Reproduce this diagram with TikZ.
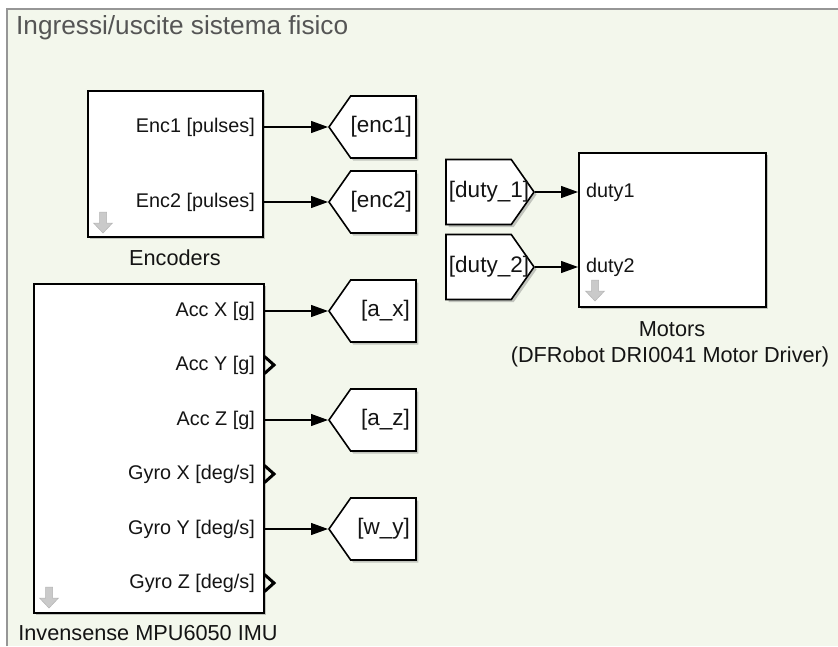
\documentclass[tikz,border=0pt]{standalone}
\usepackage{fontspec}
\setmainfont{Liberation Sans}
\usetikzlibrary{shapes.symbols,arrows.meta,shadows}
\definecolor{bgc}{RGB}{243,247,236}
\definecolor{framec}{RGB}{150,150,150}
\definecolor{iconc}{RGB}{202,202,202}
\definecolor{icond}{RGB}{180,180,180}
\definecolor{titlec}{RGB}{85,85,85}
\definecolor{txtc}{RGB}{20,20,20}
\newcommand\pfont{\fontsize{19.8}{22}\selectfont}
\newcommand\gfont{\fontsize{22.5}{26}\selectfont}
\newcommand\bfont{\fontsize{21.7}{28}\selectfont}
\newcommand\tfont{\fontsize{26.2}{30}\selectfont}
\begin{document}
\begin{tikzpicture}[x=1pt,y=-1pt,
  shd/.style={drop shadow={shadow xshift=2.5pt, shadow yshift=-2.5pt, opacity=0.35, fill=black!60}},
  blk/.style={draw=black, line width=1.6pt, fill=white, inner sep=0pt, shd},
  gototag/.style={signal, signal to=west, signal from=nowhere,
    draw=black, line width=1.6pt, fill=white, inner sep=0pt,
    minimum width=87pt, minimum height=62pt, signal pointer angle=110, shd},
  fromtag/.style={signal, signal to=east, signal from=nowhere,
    draw=black, line width=1.6pt, fill=white, inner sep=0pt,
    minimum width=88pt, minimum height=65pt, signal pointer angle=110, shd},
  plabel/.style={font=\pfont, text=txtc, inner sep=0pt},
  glabel/.style={font=\gfont, text=txtc, inner sep=0pt},
  blabel/.style={font=\bfont, text=txtc, inner sep=0pt, align=center},
  sig/.style={line width=1.2pt, -{Triangle[length=17pt,width=12pt]}},
  openport/.style={line width=3pt, miter limit=10},
  icon/.pic={\draw[fill=iconc, draw=icond, line width=0.5pt]
      (-3.5,0) -- (3.5,0) -- (3.5,11) -- (9.5,11) -- (0,21) -- (-9.5,11) -- (-3.5,11) -- cycle;}
]
\useasboundingbox (0,0) rectangle (838,646);
% frame / background
\fill[white] (0,0) rectangle (838,646);
\fill[bgc] (7,9) rectangle (838,646);
\draw[framec, line width=2pt] (7,646) -- (7,9) -- (838,9);
\node[font=\tfont, text=titlec, anchor=base west, inner sep=0pt] (title) at (16,34) {Ingressi/uscite sistema fisico};

% Encoders block
\node[blk, anchor=north west, minimum width=175pt, minimum height=146pt] (enc) at (87,90) {};
\pic at (103,212) {icon};
\coordinate (e1) at (262,127);
\coordinate (e2) at (262,202);
\node[plabel, anchor=east] (le1) at (255,127) {Enc1 [pulses]};
\node[plabel, anchor=east] (le2) at (255,202) {Enc2 [pulses]};
\node[blabel] (lenc) at (175,258) {Encoders};

% goto tags for encoders
\node[gototag, anchor=west] (genc1) at (328,127) {};
\node[glabel, anchor=east] (tenc1) at (412,127) {[enc1]};
\node[gototag, anchor=west] (genc2) at (328,202) {};
\node[glabel, anchor=east] (tenc2) at (412,202) {[enc2]};
\draw[sig] (e1) -- (genc1.west);
\draw[sig] (e2) -- (genc2.west);

% IMU block
\node[blk, anchor=north west, minimum width=230pt, minimum height=329pt] (imu) at (33,283) {};
\pic at (49,587) {icon};
\coordinate (ax) at (263,311);
\coordinate (ay) at (263,365);
\coordinate (az) at (263,420);
\coordinate (gx) at (263,474);
\coordinate (gy) at (263,529);
\coordinate (gz) at (263,583);
\node[plabel, anchor=east] (lax) at (255,311) {Acc X [g]};
\node[plabel, anchor=east] (lay) at (255,365) {Acc Y [g]};
\node[plabel, anchor=east] (laz) at (255,420) {Acc Z [g]};
\node[plabel, anchor=east] (lgx) at (255,474) {Gyro X [deg/s]};
\node[plabel, anchor=east] (lgy) at (255,529) {Gyro Y [deg/s]};
\node[plabel, anchor=east] (lgz) at (255,583) {Gyro Z [deg/s]};
\node[blabel] (limu) at (148,633) {Invensense MPU6050 IMU};
\draw[openport] ([xshift=1.5pt,yshift=-8.5pt]ay) -- ([xshift=11pt]ay) -- ([xshift=1.5pt,yshift=8.5pt]ay);
\draw[openport] ([xshift=1.5pt,yshift=-8.5pt]gx) -- ([xshift=11pt]gx) -- ([xshift=1.5pt,yshift=8.5pt]gx);
\draw[openport] ([xshift=1.5pt,yshift=-8.5pt]gz) -- ([xshift=11pt]gz) -- ([xshift=1.5pt,yshift=8.5pt]gz);

% goto tags for IMU
\node[gototag, anchor=west] (gax) at (328,311) {};
\node[glabel, anchor=east] (tax) at (410,311) {[a\_x]};
\node[gototag, anchor=west] (gaz) at (328,420) {};
\node[glabel, anchor=east] (taz) at (410,420) {[a\_z]};
\node[gototag, anchor=west] (gwy) at (328,529) {};
\node[glabel, anchor=east] (twy) at (410,529) {[w\_y]};
\draw[sig] (ax) -- (gax.west);
\draw[sig] (az) -- (gaz.west);
\draw[sig] (gy) -- (gwy.west);

% Motors block
\node[blk, anchor=north west, minimum width=187pt, minimum height=154pt] (mot) at (578,152) {};
\pic at (595,280) {icon};
\coordinate (m1) at (578,192);
\coordinate (m2) at (578,267);
\node[plabel, anchor=west] (lm1) at (586,192) {duty1};
\node[plabel, anchor=west] (lm2) at (586,267) {duty2};
\node[blabel, anchor=center] (lmot) at (672,329) {Motors};
\node[blabel, anchor=center] (lmot2) at (670,357) {(DFRobot DRI0041 Motor Driver)};

% from tags
\node[fromtag, anchor=east] (fd1) at (535,192) {};
\node[glabel] (td1) at (489,192) {[duty\_1]};
\node[fromtag, anchor=east] (fd2) at (535,267) {};
\node[glabel] (td2) at (489,267) {[duty\_2]};
\draw[sig] (fd1.east) -- (m1);
\draw[sig] (fd2.east) -- (m2);
\end{tikzpicture}
\end{document}
